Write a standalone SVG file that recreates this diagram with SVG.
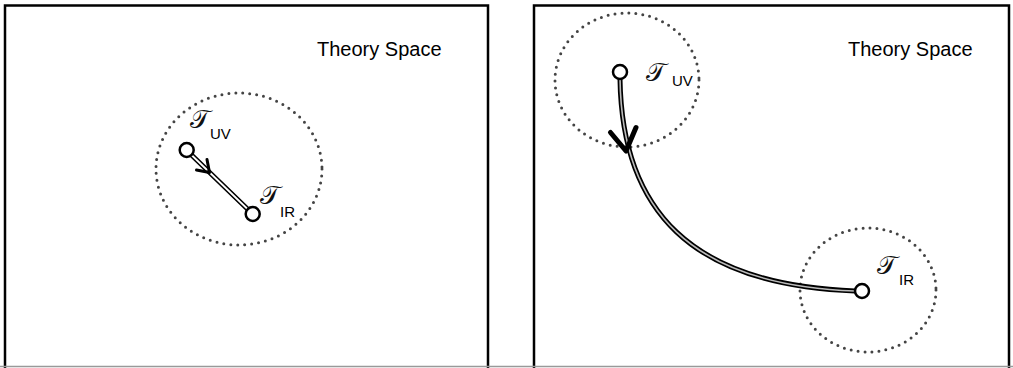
<svg xmlns="http://www.w3.org/2000/svg" width="1013" height="368" viewBox="0 0 1013 368">
  <style>
    .frame{fill:none;stroke:#000;stroke-width:2.5}
    .dots{fill:none;stroke:#444;stroke-width:3;stroke-linecap:round;stroke-dasharray:0 7}
    .node{fill:#fff;stroke:#000;stroke-width:2.5}
    .title{font-family:"Liberation Sans",Arial,sans-serif;font-size:20px;fill:#000}
    .T{font-family:"DejaVu Serif","DejaVu Sans","Noto Sans",serif;font-size:26px;fill:#111}
    .sub{font-family:"Liberation Sans",Arial,sans-serif;font-size:15px;fill:#000}
    .outer{fill:none;stroke:#000;stroke-width:5;stroke-linecap:round}
    .innerL{fill:none;stroke:#fff;stroke-width:1.8}
    .innerR{fill:none;stroke:#bbb;stroke-width:1.6}
    .head{fill:none;stroke:#000;stroke-linecap:round;stroke-linejoin:round}
  </style>
  <rect width="1013" height="368" fill="#fff"/>
  <g id="frames">
    <path class="frame" d="M5,370 V5.5 H488 V370"/>
    <path class="frame" d="M534,370 V5.5 H1009 V370"/>
    <line x1="0" y1="366.5" x2="1013" y2="366.5" stroke="#999" stroke-width="1.5"/>
  </g>
  <g id="regions">
    <ellipse class="dots" cx="239" cy="169" rx="83" ry="76"/>
    <ellipse class="dots" cx="627" cy="80" rx="72" ry="67"/>
    <ellipse class="dots" cx="868" cy="290" rx="68" ry="62"/>
  </g>
  <g id="labels">
    <text class="title" x="317" y="56">Theory Space</text>
    <text class="title" x="848" y="56">Theory Space</text>
  </g>
  <g id="connectors">
    <line class="outer" x1="191" y1="154.5" x2="248" y2="209.5"/>
    <line class="innerL" x1="191" y1="154.5" x2="248" y2="209.5"/>
    <polyline class="head" stroke-width="3" points="196.5,170 209.5,172.5 207,159.5"/>
    <path class="outer" d="M620,79 C622,210 690,285 855,291"/>
    <path class="innerR" d="M620,79 C622,210 690,285 855,291"/>
    <polyline class="head" stroke-width="5" points="610.5,132.5 626,151 636,127.5"/>
  </g>
  <g id="node-uv-left">
    <circle class="node" cx="186.7" cy="150" r="7"/>
    <text class="T" x="190" y="128">𝒯</text>
    <text class="sub" x="210" y="139">UV</text>
  </g>
  <g id="node-ir-left">
    <circle class="node" cx="252.7" cy="214" r="7"/>
    <text class="T" x="260" y="204">𝒯</text>
    <text class="sub" x="280" y="217">IR</text>
  </g>
  <g id="node-uv-right">
    <circle class="node" cx="620" cy="72" r="7"/>
    <text class="T" x="646" y="81">𝒯</text>
    <text class="sub" x="672" y="86">UV</text>
  </g>
  <g id="node-ir-right">
    <circle class="node" cx="862" cy="291" r="7"/>
    <text class="T" x="877" y="274">𝒯</text>
    <text class="sub" x="899" y="285">IR</text>
  </g>
</svg>
